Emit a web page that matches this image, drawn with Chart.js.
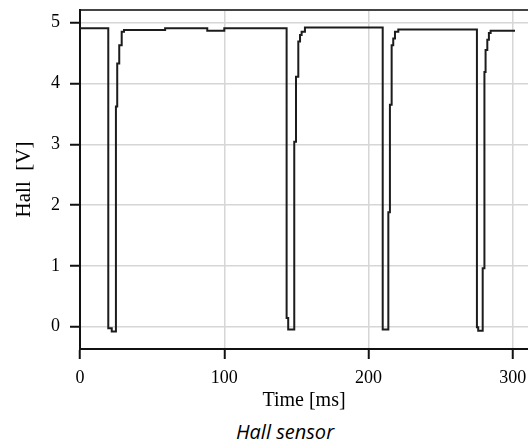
<!DOCTYPE html>
<html>
<head>
<meta charset="utf-8">
<script src="https://cdn.jsdelivr.net/npm/chart.js@4"></script>
<style>
  body { margin: 0; background: #fff; }
  #wrap { width: 528px; height: 415px; }
  #caption {
    width: 486px; padding-left: 42px; text-align: center;
    font: italic 20px "Open Sans", sans-serif; color: #000;
    line-height: 26px; margin-top: 4px;
  }
</style>
</head>
<body>
<div id="wrap"><canvas id="hall" width="528" height="415"></canvas></div>
<div id="caption">Hall sensor</div>
<script>
// sample-and-hold readings: value holds from each time until the next one
const timeMs = [0, 19.6, 22.0, 24.9, 25.8, 27.2, 28.9, 30.5, 59, 88.2, 100,
  143.2, 144.3, 148.5, 149.7, 151.3, 152.5, 153.6, 155.9,
  209.8, 213.7, 214.8, 216.0, 217.1, 218.3, 220.6,
  275.1, 276.0, 279.1, 280.3, 281.1, 282.3, 283.4, 284.6, 301.5];
const hallV = [4.91, -0.03, -0.08, 3.62, 4.33, 4.63, 4.85, 4.88, 4.91, 4.87, 4.91,
  0.14, -0.05, 3.04, 4.11, 4.69, 4.80, 4.85, 4.92,
  -0.05, 1.88, 3.65, 4.63, 4.74, 4.85, 4.89,
  -0.01, -0.07, 0.96, 4.19, 4.55, 4.72, 4.83, 4.87, 4.87];
const xTicks = [0, 100, 200, 300];
const yTicks = [0, 1, 2, 3, 4, 5];

const tickFont = { family: 'Liberation Serif', size: 18 };
const gridCol = '#d6d6d6';

new Chart(document.getElementById('hall'), {
  type: 'line',
  data: {
    datasets: [{
      data: timeMs.map((t, i) => ({ x: t, y: hallV[i] })),
      stepped: 'before',
      borderColor: '#1c1c1c',
      borderWidth: 2,
      pointRadius: 0,
      fill: false
    }]
  },
  options: {
    responsive: false,
    animation: false,
    events: [],
    layout: { autoPadding: false, padding: { top: 10, left: 0, right: 0, bottom: 0 } },
    plugins: { legend: { display: false }, tooltip: { enabled: false } },
    scales: {
      x: {
        type: 'linear',
        min: 0,
        max: 310.5,
        afterBuildTicks: s => { s.ticks = xTicks.map(v => ({ value: v })); },
        afterFit: s => { s.height = 66; s.paddingLeft = 0; s.paddingRight = 0; },
        grid: { color: gridCol, lineWidth: 1.5, tickLength: 10, tickColor: '#111', tickWidth: 2 },
        border: { color: '#111', width: 2 },
        ticks: { font: tickFont, color: '#000', padding: 8, maxRotation: 0 },
        title: { display: true, text: 'Time [ms]', font: { family: 'Liberation Serif', size: 20 },
                 color: '#000', padding: { top: 0, bottom: 2 } }
      },
      xTop: {
        type: 'linear',
        position: 'top',
        afterFit: s => { s.height = 0; },
        grid: { display: false, drawTicks: false },
        ticks: { display: false },
        border: { display: true, color: '#444', width: 2 }
      },
      y: {
        min: -0.37,
        max: 5.21,
        afterBuildTicks: s => { s.ticks = yTicks.map(v => ({ value: v })); },
        afterFit: s => { s.width = 80; s.paddingTop = 0; s.paddingBottom = 0; },
        grid: { color: gridCol, lineWidth: 1.5, tickLength: 10, tickColor: '#111', tickWidth: 2 },
        border: { color: '#111', width: 2 },
        ticks: { font: tickFont, color: '#000', padding: 10 },
        title: { display: true, text: 'Hall  [V]', font: { family: 'Liberation Serif', size: 21 },
                 color: '#000', padding: { top: 12, bottom: 0 } }
      }
    }
  }
});
</script>
</body>
</html>
